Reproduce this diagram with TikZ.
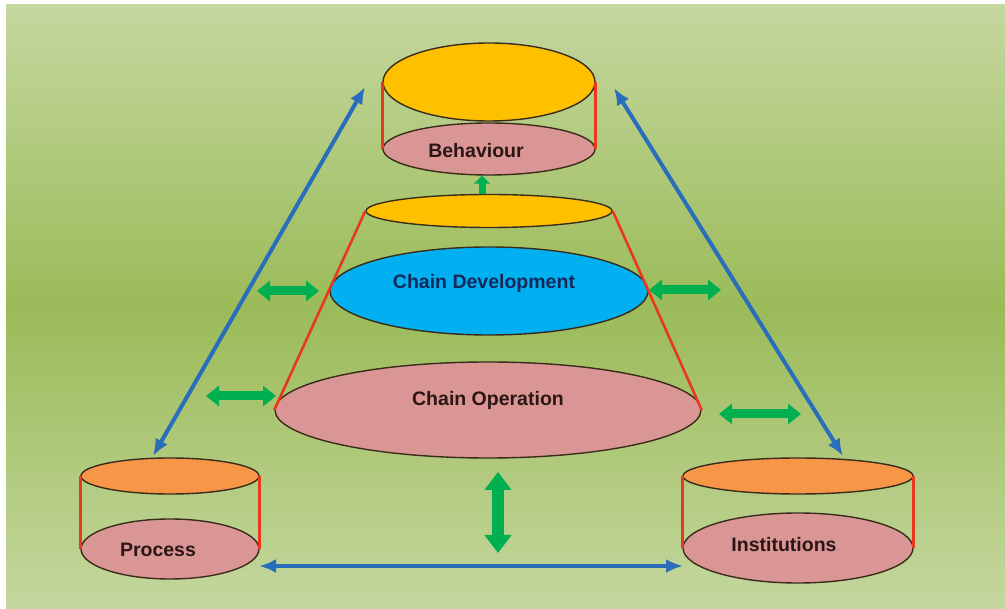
\documentclass[tikz,border=0pt]{standalone}
\usepackage{fontspec}
\setmainfont{Liberation Sans}
\usetikzlibrary{shapes.geometric,arrows.meta}
\definecolor{bgtop}{HTML}{C4D79E}
\definecolor{bgmid}{HTML}{9BBB59}
\definecolor{ygold}{HTML}{FFC000}
\definecolor{ora}{HTML}{F79646}
\definecolor{pnk}{HTML}{D99694}
\definecolor{cyn}{HTML}{00B0F0}
\definecolor{edgec}{HTML}{3A2B1B}
\definecolor{redl}{HTML}{E8381E}
\definecolor{blu}{HTML}{2A6EBB}
\definecolor{grn}{HTML}{00B050}
\definecolor{txtdark}{HTML}{2B1515}
\definecolor{txtnavy}{HTML}{14285A}
\begin{document}
\begin{tikzpicture}[x=1pt,y=-1pt,
  ell/.style={ellipse,draw=edgec,line width=1.4pt,inner sep=0pt},
  side/.style={draw=redl,line width=2.6pt},
  lbl/.style={font=\fontsize{19.5}{22}\selectfont\bfseries,inner sep=0pt,text=txtdark},
  blarrow/.style={draw=blu,line width=4pt,{Latex[width=14pt,length=17pt]}-{Latex[width=14pt,length=17pt]}},
  grarrow/.style={draw=grn,line width=9pt,{Triangle[width=20pt,length=13pt]}-{Triangle[width=20pt,length=13pt]}},
  grvarrow/.style={draw=grn,line width=12pt,{Triangle[width=26pt,length=18pt]}-{Triangle[width=26pt,length=18pt]}}
]
\useasboundingbox (0,0) rectangle (1005,609);
\fill[white] (0,0) rectangle (1005,609);
\shade[top color=bgtop, bottom color=bgtop, middle color=bgmid] (6,5) rectangle (1005,609);

% Behaviour cylinder
\node[ell,fill=ygold,minimum width=212pt,minimum height=78pt] (btop) at (489,82) {};
\node[ell,fill=pnk,minimum width=212pt,minimum height=52pt] (bbot) at (489,149) {};
\draw[side] (btop.west) -- (bbot.west);
\draw[side] (btop.east) -- (bbot.east);
\node[lbl] (btxt) at (476,151) {Behaviour};

% cone
\node[ell,fill=ygold,minimum width=246pt,minimum height=33pt] (cdtop) at (489,211) {};
\node[ell,fill=cyn,minimum width=318pt,minimum height=88pt] (cdev) at (489,291) {};
\node[ell,fill=pnk,minimum width=426pt,minimum height=96pt] (cop) at (488,410) {};
\draw[side] (cdtop.west) -- (cop.west);
\draw[side] (cdtop.east) -- (cop.east);
\node[lbl,text=txtnavy] (cdtxt) at (484,283) {Chain Development};
\node[lbl] (coptxt) at (488,400) {Chain Operation};

% Process cylinder
\node[ell,fill=ora,minimum width=178pt,minimum height=36pt] (ptop) at (170,476) {};
\node[ell,fill=pnk,minimum width=178pt,minimum height=60pt] (pbot) at (170,549) {};
\draw[side] (ptop.west) -- (pbot.west);
\draw[side] (ptop.east) -- (pbot.east);
\node[lbl] (ptxt) at (158,550) {Process};

% Institutions cylinder
\node[ell,fill=ora,minimum width=230pt,minimum height=36pt] (itop) at (798,476) {};
\node[ell,fill=pnk,minimum width=230pt,minimum height=70pt] (ibot) at (798,548) {};
\draw[side] (itop.west) -- (ibot.west);
\draw[side] (itop.east) -- (ibot.east);
\node[lbl] (itxt) at (784,545) {Institutions};

% blue arrows
\coordinate (bl1) at (153,456);
\coordinate (bl2) at (365,87);
\coordinate (br1) at (614,88);
\coordinate (br2) at (843,456);
\coordinate (bb1) at (259,566);
\coordinate (bb2) at (683,566);
\draw[blarrow] (bl1) -- (bl2);
\draw[blarrow] (br1) -- (br2);
\draw[blarrow] (bb1) -- (bb2);

% green arrows
\coordinate (g1a) at (257,291);
\coordinate (g1b) at (319,291);
\coordinate (g2a) at (206,396);
\coordinate (g2b) at (276,396);
\coordinate (g3a) at (649,290);
\coordinate (g3b) at (721,290);
\coordinate (g4a) at (719,414);
\coordinate (g4b) at (801,414);
\coordinate (g5a) at (498,472);
\coordinate (g5b) at (498,553);
\draw[grarrow] (g1a) -- (g1b);
\draw[grarrow] (g2a) -- (g2b);
\draw[grarrow] (g3a) -- (g3b);
\draw[grarrow] (g4a) -- (g4b);
\draw[grvarrow] (g5a) -- (g5b);
\draw[draw=grn,line width=7pt,-{Triangle[width=16pt,length=8pt]}] ([xshift=-7pt]cdtop.north) -- ([xshift=-7pt]bbot.south);
\end{tikzpicture}
\end{document}
